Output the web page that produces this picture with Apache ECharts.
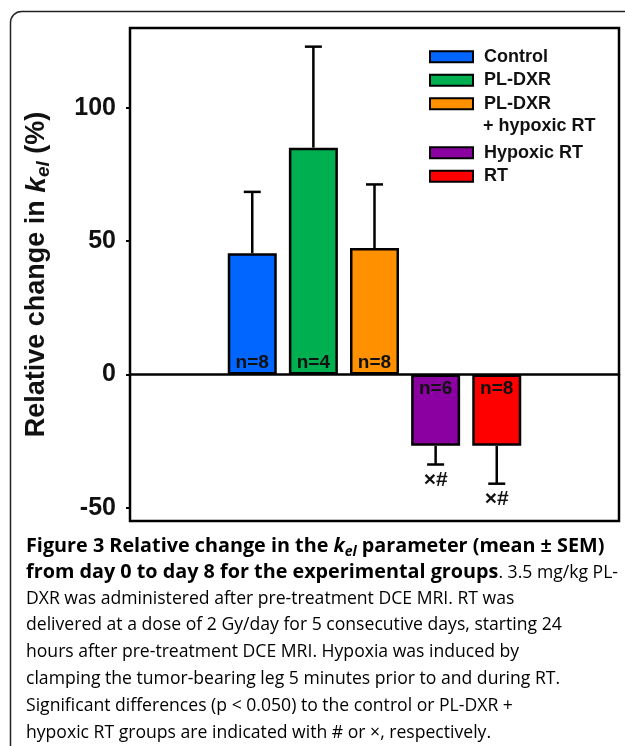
<!DOCTYPE html>
<html>
<head>
<meta charset="utf-8">
<script src="https://cdn.jsdelivr.net/npm/echarts@6/dist/echarts.min.js"></script>
<style>
  html, body { margin: 0; padding: 0; background: #fff; }
  #chart { width: 625px; height: 746px; }
</style>
</head>
<body>
<div id="chart"></div>
<script>
// ---- data ----
const groups = ['Control', 'PL-DXR', 'PL-DXR + hypoxic RT', 'Hypoxic RT', 'RT'];
const xPos = [1, 2, 3, 4, 5];
const means = [45.5, 85.1, 47.4, -26.8, -26.8];
const sems = [23.0, 37.9, 23.9, 7.0, 14.2];
const nLabels = ['n=8', 'n=4', 'n=8', 'n=6', 'n=8'];
const sigMarks = ['', '', '', '×#', '×#'];
const yTicks = [-50, 0, 50, 100];
const captionLines = [
  [['b', 'Figure 3 Relative change in the '], ['bi', 'k'], ['bs', 'el'], ['b', ' parameter (mean ± SEM)']],
  [['b', 'from day 0 to day 8 for the experimental groups'], ['r', '. 3.5 mg/kg PL-']],
  [['r', 'DXR was administered after pre-treatment DCE MRI. RT was']],
  [['r', 'delivered at a dose of 2 Gy/day for 5 consecutive days, starting 24']],
  [['r', 'hours after pre-treatment DCE MRI. Hypoxia was induced by']],
  [['r', 'clamping the tumor-bearing leg 5 minutes prior to and during RT.']],
  [['r', 'Significant differences (p < 0.050) to the control or PL-DXR +']],
  [['r', 'hypoxic RT groups are indicated with # or ×, respectively.']]
];

// ---- styles ----
const palette = ['#0066ff', '#00b050', '#ff9000', '#8a00a0', '#ff0000'];
const ARIAL = 'Liberation Sans, Arial, Helvetica, sans-serif';
const CAP = 'Open Sans, Noto Sans, sans-serif';

const chart = echarts.init(document.getElementById('chart'), null, { renderer: 'canvas' });

const barSeries = groups.map((g, i) => ({
  name: g,
  type: 'bar',
  stack: 'all',
  barWidth: 49,
  barCategoryGap: '0%',
  z: 2,
  itemStyle: { color: palette[i], borderColor: '#000', borderWidth: 2.5 },
  label: {
    show: true,
    position: means[i] >= 0 ? 'insideBottom' : 'insideTop',
    distance: means[i] >= 0 ? 2 : 5,
    formatter: () => nLabels[i],
    fontFamily: ARIAL, fontWeight: 'bold', fontSize: 19, color: '#111'
  },
  data: [[xPos[i], means[i]]]
}));

const errSeries = {
  type: 'custom',
  z: 3,
  silent: true,
  data: xPos.map((x, i) => [x, means[i], sems[i]]),
  renderItem: function (params, api) {
    const x = api.value(0), m = api.value(1), s = api.value(2);
    const end = m >= 0 ? m + s : m - s;
    const p0 = api.coord([x, m]);
    const p1 = api.coord([x, end]);
    const half = 8.5;
    const children = [
      { type: 'line', shape: { x1: p0[0], y1: p0[1], x2: p1[0], y2: p1[1] }, style: { stroke: '#000', lineWidth: 2.5 } },
      { type: 'line', shape: { x1: p1[0] - half, y1: p1[1], x2: p1[0] + half, y2: p1[1] }, style: { stroke: '#000', lineWidth: 2.5 } }
    ];
    const mark = sigMarks[params.dataIndex];
    if (mark) {
      children.push({
        type: 'text',
        style: { text: mark, x: p1[0], y: p1[1] + 16, align: 'center', verticalAlign: 'middle',
                 font: 'bold 21px ' + ARIAL, fill: '#111' }
      });
    }
    return { type: 'group', children: children };
  }
};

const capRich = {
  b: { fontFamily: CAP, fontWeight: 'bold', fontSize: 19.8, color: '#111', lineHeight: 22 },
  bi: { fontFamily: CAP, fontWeight: 'bold', fontStyle: 'italic', fontSize: 19.8, color: '#111', lineHeight: 22 },
  bs: { fontFamily: CAP, fontWeight: 'bold', fontStyle: 'italic', fontSize: 14, color: '#111', lineHeight: 22, verticalAlign: 'bottom', padding: [0, 0, -2, 0] },
  r: { fontFamily: CAP, fontWeight: 'normal', fontSize: 17.6, color: '#333', lineHeight: 22 }
};

const captionGraphics = captionLines.map((line, i) => ({
  type: 'text',
  left: 26,
  top: 536 + i * 26.8,
  style: {
    text: line.map(t => '{' + t[0] + '|' + t[1] + '}').join(''),
    rich: capRich
  }
}));

const option = {
  animation: false,
  backgroundColor: '#fff',
  grid: { left: 130, top: 28, right: 6, bottom: 225, show: true, borderColor: '#000', borderWidth: 2.5, containLabel: false },
  xAxis: {
    type: 'value', min: -1, max: 7,
    axisLine: { show: true, onZero: true, lineStyle: { color: '#000', width: 2.5 } },
    axisTick: { show: false }, axisLabel: { show: false }, splitLine: { show: false }
  },
  yAxis: {
    type: 'value', min: -55, max: 130,
    axisLine: { show: false, onZero: false },
    axisTick: { show: true, inside: false, length: 4, customValues: yTicks, lineStyle: { color: '#000', width: 2 } },
    axisLabel: { show: true, customValues: yTicks, margin: 14, fontFamily: ARIAL, fontWeight: 'bold', fontSize: 25, color: '#111' },
    splitLine: { show: false },
    name: '{t|Relative change in }{k|k}{s|el}{t| (%)}',
    nameLocation: 'middle',
    nameRotate: 90,
    nameGap: 77,
    nameTextStyle: {
      rich: {
        t: { fontFamily: ARIAL, fontWeight: 'bold', fontSize: 27, color: '#111', lineHeight: 32 },
        k: { fontFamily: ARIAL, fontWeight: 'bold', fontStyle: 'italic', fontSize: 28, color: '#111', lineHeight: 32 },
        s: { fontFamily: ARIAL, fontWeight: 'bold', fontStyle: 'italic', fontSize: 19, color: '#111', lineHeight: 32, verticalAlign: 'bottom' }
      }
    }
  },
  legend: [
    {
      orient: 'vertical', left: 429, top: 47, padding: 0, itemGap: 4,
      itemWidth: 43, itemHeight: 11, icon: 'rect',
      itemStyle: { borderColor: '#000', borderWidth: 2 },
      data: groups.slice(0, 3),
      formatter: name => name.split(' + ')[0],
      textStyle: { fontFamily: ARIAL, fontWeight: 'bold', fontSize: 18, color: '#111', lineHeight: 19.5, padding: [0, 0, 0, 6] }
    },
    {
      orient: 'vertical', left: 429, top: 143, padding: 0, itemGap: 4,
      itemWidth: 43, itemHeight: 11, icon: 'rect',
      itemStyle: { borderColor: '#000', borderWidth: 2 },
      data: groups.slice(3),
      textStyle: { fontFamily: ARIAL, fontWeight: 'bold', fontSize: 18, color: '#111', lineHeight: 19.5, padding: [0, 0, 0, 6] }
    }
  ],
  graphic: [
    { type: 'rect', left: 8, top: 9, shape: { width: 650, height: 760, r: 11 }, style: { fill: 'none', stroke: '#222', lineWidth: 1.5 }, z: -1 },
    { type: 'text', left: 483, top: 117, style: { text: '+ ' + groups[2].split(' + ')[1], font: 'bold 18px ' + ARIAL, fill: '#111' } }
  ].concat(captionGraphics),
  series: barSeries.concat([errSeries])
};

chart.setOption(option);
</script>
</body>
</html>
